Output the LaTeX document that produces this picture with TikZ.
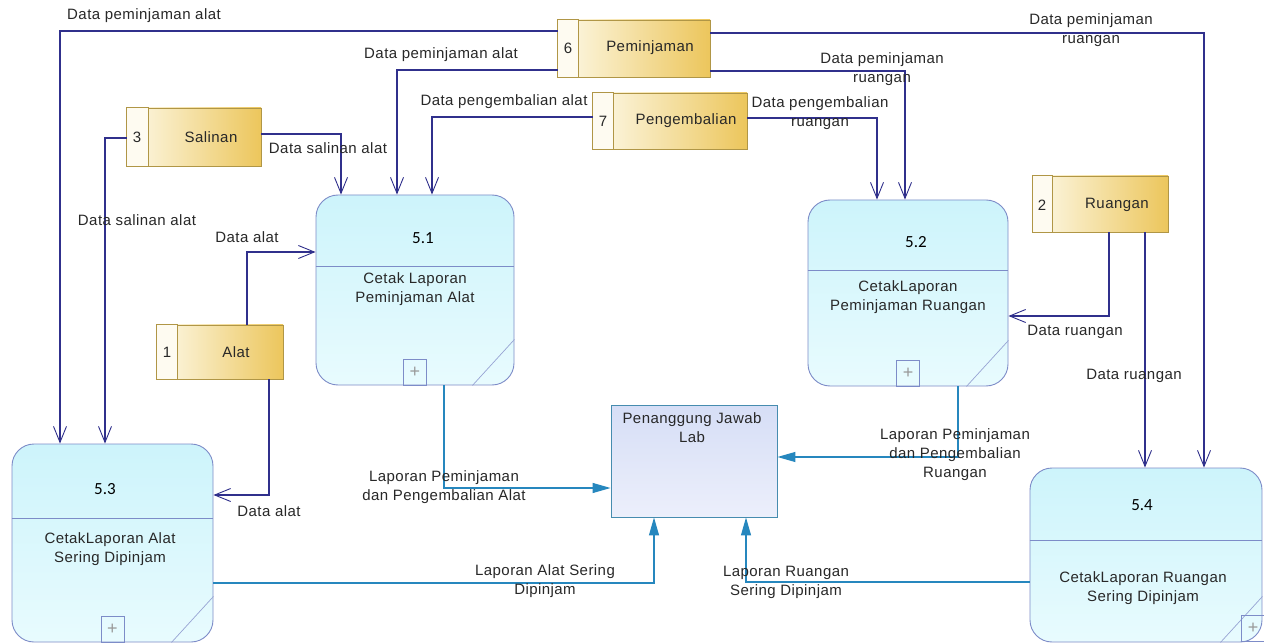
\documentclass[tikz,border=0pt]{standalone}
\usepackage{fontspec}
\setmainfont{Liberation Sans}[LetterSpace=3]
\newfontfamily\numfont{Carlito}
\usetikzlibrary{arrows.meta}

\definecolor{flow}{RGB}{48,48,140}
\definecolor{rep}{RGB}{38,135,190}
\definecolor{procline}{RGB}{125,140,200}
\definecolor{procA}{RGB}{205,244,251}
\definecolor{procB}{RGB}{232,251,254}
\definecolor{storeline}{RGB}{176,150,70}
\definecolor{storeA}{RGB}{253,249,232}
\definecolor{storeB}{RGB}{236,198,92}
\definecolor{entline}{RGB}{70,140,175}
\definecolor{entA}{RGB}{214,222,246}
\definecolor{entB}{RGB}{236,239,251}
\definecolor{txt}{RGB}{40,40,40}

\tikzset{
  base/.style={font=\fontsize{15}{19}\selectfont, text=txt},
  proc/.style={draw=procline, line width=0.9pt, rounded corners=22pt,
    top color=procA, bottom color=procB, inner sep=0pt},
  procnum/.style={font=\numfont\fontsize{17}{20}\selectfont, text=black, inner sep=0pt},
  proctext/.style={base, align=center, inner sep=0pt},
  plusbox/.style={draw=procline, line width=0.8pt, minimum width=23pt,
    minimum height=26pt, inner sep=0pt, text=gray!80,
    font=\fontsize{18}{18}\selectfont},
  divline/.style={draw=procline, line width=0.9pt},
  cornerline/.style={draw=procline!80, line width=0.7pt},
  store/.style={draw=storeline, line width=0.9pt, left color=storeA,
    right color=storeB, inner sep=0pt},
  storecell/.style={draw=storeline, fill=storeA!60!white, line width=0.9pt},
  storetext/.style={base, inner sep=0pt},
  ent/.style={draw=entline, line width=0.9pt, top color=entA,
    bottom color=entB, inner sep=0pt},
  flowline/.style={draw=flow, line width=1.1pt,
    -{Straight Barb[length=16pt,width=13pt,line width=0.9pt]}},
  repline/.style={draw=rep, line width=1.2pt,
    -{Triangle[length=18pt,width=10pt]}},
  lbl/.style={base, align=center, inner sep=0pt},
}

\begin{document}
\begin{tikzpicture}[x=1pt,y=-1pt]
\useasboundingbox (0,0) rectangle (1264,644);
\fill[white] (0,0) rectangle (1264,644);

% ---------- processes ----------
\node[proc, minimum width=198pt, minimum height=190pt] (p51) at (415,290) {};
\node[proc, minimum width=200pt, minimum height=186pt] (p52) at (908,293) {};
\node[proc, minimum width=201pt, minimum height=198pt] (p53) at (112.5,543) {};
\node[proc, minimum width=232pt, minimum height=174pt] (p54) at (1146,555) {};

\draw[divline] (p51.west |- 0,266) -- (p51.east |- 0,266);
\draw[divline] (p52.west |- 0,270) -- (p52.east |- 0,270);
\draw[divline] (p53.west |- 0,518) -- (p53.east |- 0,518);
\draw[divline] (p54.west |- 0,540) -- (p54.east |- 0,540);

\foreach \p in {p51,p52,p53,p54}{
  \draw[cornerline] ([yshift=46pt]\p.south east) -- ([xshift=-42pt]\p.south east);
}

\node[plusbox, anchor=south] (p51plus) at (p51.south) {+};
\node[plusbox, anchor=south] (p52plus) at (p52.south) {+};
\node[plusbox, anchor=south] (p53plus) at (p53.south) {+};
\node[plusbox, anchor=south] (p54plus) at (1253,642) {+};

\node[procnum] (p51n) at (423,238) {5.1};
\node[procnum] (p52n) at (916,242) {5.2};
\node[procnum] (p53n) at (105,489) {5.3};
\node[procnum] (p54n) at (1142,505) {5.4};

\node[proctext] (p51t) at (415,289) {Cetak Laporan\\Peminjaman Alat};
\node[proctext] (p52t) at (908,297) {CetakLaporan\\Peminjaman Ruangan};
\node[proctext] (p53t) at (110,549) {CetakLaporan Alat\\Sering Dipinjam};
\node[proctext] (p54t) at (1143,588) {CetakLaporan Ruangan\\Sering Dipinjam};

% ---------- external entity ----------
\node[ent, minimum width=166pt, minimum height=112pt] (ent) at (694,461) {};
\node[proctext] (entt) at (692,428) {Penanggung Jawab\\Lab};

% ---------- data stores ----------
\node[store, minimum width=152pt, minimum height=57pt] (ds6) at (634,48.5) {};
\node[store, minimum width=154pt, minimum height=56pt] (ds7) at (670,121) {};
\node[store, minimum width=134pt, minimum height=58pt] (ds3) at (194,137) {};
\node[store, minimum width=126pt, minimum height=54pt] (ds1) at (220,352) {};
\node[store, minimum width=135pt, minimum height=56pt] (ds2) at (1100.5,204) {};

\path[storecell] (ds6.north west) rectangle ([xshift=21pt]ds6.south west);
\path[storecell] (ds7.north west) rectangle ([xshift=21pt]ds7.south west);
\path[storecell] (ds3.north west) rectangle ([xshift=22pt]ds3.south west);
\path[storecell] (ds1.north west) rectangle ([xshift=21pt]ds1.south west);
\path[storecell] (ds2.north west) rectangle ([xshift=20pt]ds2.south west);

\node[storetext] (ds6n) at (568,48) {6};
\node[storetext] (ds7n) at (603,121) {7};
\node[storetext] (ds3n) at (137,137) {3};
\node[storetext] (ds1n) at (167,352) {1};
\node[storetext] (ds2n) at (1042,205) {2};

\node[storetext] (ds6t) at (650,48) {Peminjaman};
\node[storetext] (ds7t) at (686,121) {Pengembalian};
\node[storetext] (ds3t) at (211,137) {Salinan};
\node[storetext] (ds1t) at (236,352) {Alat};
\node[storetext] (ds2t) at (1117,205) {Ruangan};

% ---------- data flows ----------
\draw[flowline] (ds6.west |- 0,31) -| (p53.north -| 60,0);
\draw[flowline] (ds6.west |- 0,70) -| (p51.north -| 397,0);
\draw[flowline] (ds6.east |- 0,33) -| (p54.north -| 1204,0);
\draw[flowline] (ds6.east |- 0,71) -| (p52.north -| 905,0);
\draw[flowline] (ds7.west |- 0,117) -| (p51.north -| 432,0);
\draw[flowline] (ds7.east |- 0,118) -| (p52.north -| 877,0);
\draw[flowline] (ds3.east |- 0,134) -| (p51.north -| 341,0);
\draw[flowline] (ds3.west |- 0,138) -| (p53.north -| 105,0);
\draw[flowline] (ds1.north -| 247,0) |- (p51.west |- 0,252);
\draw[flowline] (ds1.south -| 269,0) |- (p53.east |- 0,495);
\draw[flowline] (ds2.south -| 1109,0) |- (p52.east |- 0,316);
\draw[flowline] (ds2.south -| 1145,0) -- (p54.north -| 1145,0);

% ---------- reports to the entity ----------
\draw[repline] (p51.south -| 444,0) |- (ent.west |- 0,488);
\draw[repline] (p52.south -| 958,0) |- (ent.east |- 0,457);
\draw[repline] (p53.east |- 0,583) -| (ent.south -| 654,0);
\draw[repline] (p54.west |- 0,582) -| (ent.south -| 746,0);

% ---------- flow labels ----------
\node[lbl] (l1) at (144,16) {Data peminjaman alat};
\node[lbl] (l2) at (441,55) {Data peminjaman alat};
\node[lbl] (l3) at (1091,30) {Data peminjaman\\ruangan};
\node[lbl] (l4) at (882,69.5) {Data peminjaman\\ruangan};
\node[lbl] (l5) at (504,102) {Data pengembalian alat};
\node[lbl] (l6) at (820,113.5) {Data pengembalian\\ruangan};
\node[lbl] (l7) at (328,148) {Data salinan alat};
\node[lbl] (l8) at (137,220) {Data salinan alat};
\node[lbl] (l9) at (247,237) {Data alat};
\node[lbl] (l10) at (269,511) {Data alat};
\node[lbl] (l11) at (1075,332) {Data ruangan};
\node[lbl] (l12) at (1134,376) {Data ruangan};

\node[lbl] (r1) at (444,487.5) {Laporan Peminjaman\\dan Pengembalian Alat};
\node[lbl] (r2) at (955,454.5) {Laporan Peminjaman\\dan Pengembalian\\Ruangan};
\node[lbl] (r3) at (545,581.5) {Laporan Alat Sering\\Dipinjam};
\node[lbl] (r4) at (786,582.5) {Laporan Ruangan\\Sering Dipinjam};
\end{tikzpicture}
\end{document}
